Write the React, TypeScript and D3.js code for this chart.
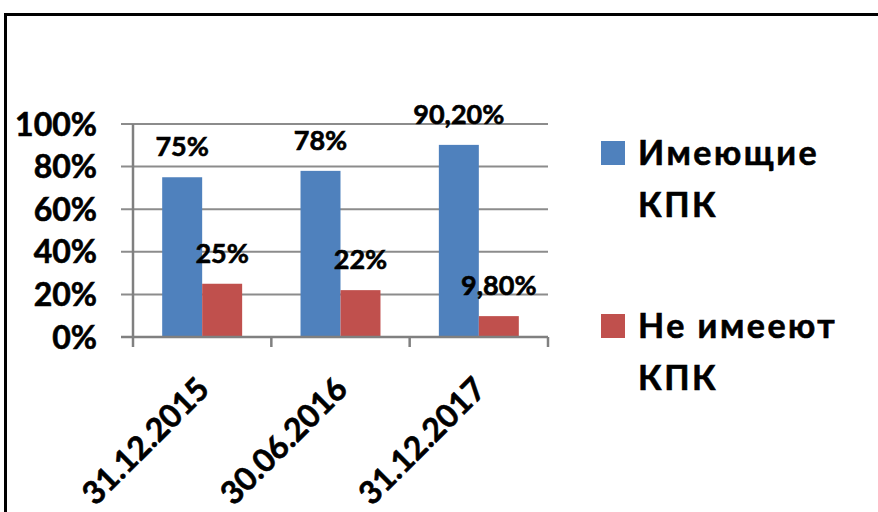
import React, { useEffect, useRef } from 'react';
import * as d3 from 'd3';

const categories = ['31.12.2015', '30.06.2016', '31.12.2017'];
const seriesKeys = ['has', 'hasNot'];
const hasKpk = [75, 78, 90.2];
const hasNotKpk = [25, 22, 9.8];
const hasKpkLabels = ['75%', '78%', '90,20%'];
const hasNotKpkLabels = ['25%', '22%', '9,80%'];
const yTicks = [0, 20, 40, 60, 80, 100];
const legendLines = [['Имеющие', 'КПК'], ['Не имееют', 'КПК']];

const WIDTH = 878;
const HEIGHT = 512;
const PLOT = { left: 133, right: 548, top: 124, bottom: 337 };
const COLORS = ['#4F81BD', '#C0504D'];
const FONT = "Lato, 'Noto Sans', sans-serif";

const App: React.FC = () => {
  const svgRef = useRef<SVGSVGElement>(null);

  useEffect(() => {
    if (!svgRef.current) return;
    const svg = d3.select(svgRef.current);
    svg.selectAll('*').remove();

    // рамка
    svg.append('rect')
      .attr('x', 5.5).attr('y', 14.5)
      .attr('width', 1000).attr('height', 1000)
      .attr('fill', 'none')
      .attr('stroke', '#000')
      .attr('stroke-width', 3);

    const xScale = d3.scaleBand<string>()
      .domain(categories)
      .range([PLOT.left, PLOT.right]);

    const xSub = d3.scaleBand<string>()
      .domain(seriesKeys)
      .range([0, xScale.bandwidth()])
      .paddingOuter(0.73);

    const yScale = d3.scaleLinear()
      .domain([0, 100])
      .range([PLOT.bottom, PLOT.top]);

    const colorScale = d3.scaleOrdinal<string, string>()
      .domain(seriesKeys)
      .range(COLORS);

    // жирный текст как в Excel
    const boldText = (sel: any, size: number) => sel
      .style('font-family', FONT)
      .style('font-weight', 'bold')
      .style('font-size', `${size}px`)
      .attr('stroke', '#000')
      .attr('stroke-width', 0.6)
      .attr('fill', '#000');

    // сетка
    svg.append('g')
      .selectAll('line')
      .data(yTicks.filter(t => t > 0))
      .enter()
      .append('line')
      .attr('x1', PLOT.left - 12)
      .attr('x2', PLOT.right)
      .attr('y1', d => yScale(d))
      .attr('y2', d => yScale(d))
      .attr('stroke', '#8c8c8c')
      .attr('stroke-width', 2);

    // подписи оси Y
    svg.append('g')
      .selectAll('text')
      .data(yTicks)
      .enter()
      .append('text')
      .attr('x', 97)
      .attr('y', d => yScale(d))
      .attr('dy', '0.36em')
      .attr('text-anchor', 'end')
      .call(boldText, 32)
      .text(d => `${d}%`);

    // столбцы
    const rows = categories.map((c, i) => ({
      category: c,
      values: [
        { key: 'has', value: hasKpk[i], label: hasKpkLabels[i] },
        { key: 'hasNot', value: hasNotKpk[i], label: hasNotKpkLabels[i] },
      ],
    }));

    const groups = svg.selectAll('.cat')
      .data(rows)
      .enter()
      .append('g')
      .attr('class', 'cat')
      .attr('transform', d => `translate(${xScale(d.category)},0)`);

    groups.selectAll('rect')
      .data(d => d.values)
      .enter()
      .append('rect')
      .attr('x', d => xSub(d.key)!)
      .attr('y', d => yScale(d.value))
      .attr('width', xSub.bandwidth())
      .attr('height', d => PLOT.bottom - yScale(d.value))
      .attr('fill', d => colorScale(d.key));

    groups.selectAll('text.val')
      .data(d => d.values)
      .enter()
      .append('text')
      .attr('class', 'val')
      .attr('x', d => xSub(d.key)! + xSub.bandwidth() / 2)
      .attr('y', d => yScale(d.value) - 21)
      .attr('text-anchor', 'middle')
      .call(boldText, 27)
      .text(d => d.label);

    // оси
    const axisColor = '#808080';
    svg.append('line')
      .attr('x1', PLOT.left).attr('x2', PLOT.left)
      .attr('y1', PLOT.top).attr('y2', PLOT.bottom + 10)
      .attr('stroke', axisColor).attr('stroke-width', 2.5);
    svg.append('line')
      .attr('x1', PLOT.left - 12).attr('x2', PLOT.right)
      .attr('y1', PLOT.bottom).attr('y2', PLOT.bottom)
      .attr('stroke', axisColor).attr('stroke-width', 2.5);

    const tickXs = [...categories.map(c => xScale(c)!), PLOT.right];
    svg.append('g')
      .selectAll('line')
      .data(tickXs.slice(1))
      .enter()
      .append('line')
      .attr('x1', d => d).attr('x2', d => d)
      .attr('y1', PLOT.bottom).attr('y2', PLOT.bottom + 10)
      .attr('stroke', axisColor).attr('stroke-width', 2.5);

    // подписи оси X
    svg.append('g')
      .selectAll('text')
      .data(categories)
      .enter()
      .append('text')
      .attr('transform', d => `translate(${xScale(d)! + xScale.bandwidth() / 2 + 9},${PLOT.bottom + 54}) rotate(-45)`)
      .attr('text-anchor', 'end')
      .call(boldText, 32)
      .text(d => d);

    // легенда
    const legend = svg.selectAll('.legend')
      .data(seriesKeys)
      .enter()
      .append('g')
      .attr('class', 'legend')
      .attr('transform', (d, i) => `translate(601,${141 + i * 173})`);

    legend.append('rect')
      .attr('width', 24)
      .attr('height', 24)
      .attr('fill', d => colorScale(d));

    legend.append('text')
      .attr('x', 37)
      .call(boldText, 34)
      .style('letter-spacing', '2.5px')
      .selectAll('tspan')
      .data((d, i) => legendLines[i])
      .enter()
      .append('tspan')
      .attr('x', 37)
      .attr('y', (d, j) => 24 + j * 52)
      .text(d => d);
  }, []);

  return (
    <svg
      ref={svgRef}
      width={WIDTH}
      height={HEIGHT}
      style={{ position: 'absolute', left: 0, top: 0, background: '#fff' }}
    />
  );
};

export default App;
